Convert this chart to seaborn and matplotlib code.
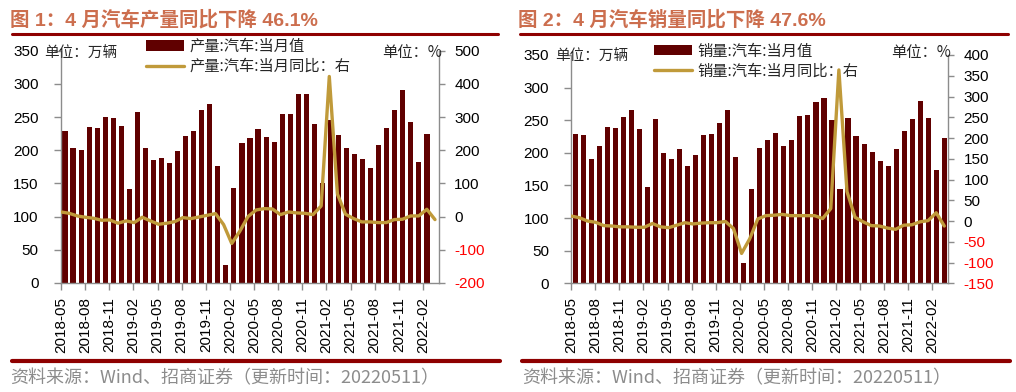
import numpy as np
import pandas as pd
import matplotlib
matplotlib.use("Agg")
import matplotlib.pyplot as plt
from matplotlib.lines import Line2D
import seaborn as sns

# ---------------- data ----------------
tick_labels = ["2018-05", "2018-08", "2018-11", "2019-02", "2019-05", "2019-08",
               "2019-11", "2020-02", "2020-05", "2020-08", "2020-11", "2021-02",
               "2021-05", "2021-08", "2021-11", "2022-02"]

prod_volume = [229, 204, 200, 235, 234, 250, 249, 237, 141, 257,
               204, 185, 189, 181, 199, 222, 229, 260, 269, 176,
               27, 143, 211, 218, 232, 220, 213, 254, 255, 285,
               284, 240, 150, 246, 223, 204, 194, 187, 173, 208,
               234, 260, 291, 243, 182, 225]
prod_yoy = [14, 10, 2, -2, -5, -11, -10, -20, -13, -18,
            -2, -13, -23, -20, -15, -3, -6, -1, 4, 9,
            -24, -81, -44, 0, 20, 24, 23, 6, 14, 11,
            10, 6, 32, 422, 68, 7, -6, -16, -16, -18,
            -18, -9, -8, 2, 2, 22, -9]

sales_volume = [229, 228, 190, 211, 240, 238, 255, 266, 237, 148,
                252, 199, 191, 206, 180, 196, 228, 229, 246, 266,
                193, 31, 144, 208, 220, 231, 211, 219, 257, 258,
                278, 284, 251, 145, 254, 226, 213, 202, 187, 180,
                206, 234, 252, 280, 254, 174, 223]
sales_yoy = [12, 8, 0, -3, -11, -12, -14, -14, -15, -15,
             -6, -14, -16, -10, -4, -7, -5, -4, -4, -1,
             -18, -78, -43, 5, 13, 14, 16, 13, 13, 13,
             13, 6, 30, 364, 71, 9, -2, -11, -12, -17,
             -20, -10, -9, -2, 1, 20, -12]

left_ticks = [0, 50, 100, 150, 200, 250, 300, 350]
right_ticks_1 = [-200, -100, 0, 100, 200, 300, 400, 500]
right_ticks_2 = [-150, -100, -50, 0, 50, 100, 150, 200, 250, 300, 350, 400]

titles = ["图 1：4 月汽车产量同比下降 46.1%", "图 2：4 月汽车销量同比下降 47.6%"]
bar_labels = ["产量:汽车:当月值", "销量:汽车:当月值"]
line_labels = ["产量:汽车:当月同比：右", "销量:汽车:当月同比：右"]
source_text = "资料来源：Wind、招商证券（更新时间：20220511）"

# ---------------- style ----------------
BAR = "#600000"
LINE = "#C09A3A"
TITLE_C = "#CC6E4E"
RULE_C = "#8E0000"
SPINE_C = "#8C8C8C"
W, H = 1016, 392

sns.set_theme(style="white")
plt.rcParams["font.family"] = ["Liberation Sans", "Noto Sans CJK SC"]
CJK = ["Noto Sans CJK SC", "Liberation Sans"]

fig = plt.figure(figsize=(W / 100, H / 100), dpi=100)
fig.patch.set_facecolor("white")


def fx(px):
    return px / W


def fy(py):
    return 1 - py / H


def panel(rect, bars, yoy, rticks, bar_label, line_label, legend_x):
    ax = fig.add_axes(rect)
    n = len(yoy)
    df_bar = pd.DataFrame({"slot": np.arange(len(bars)), "value": bars})
    sns.barplot(data=df_bar, x="slot", y="value", color=BAR, saturation=1,
                width=0.64, linewidth=0, ax=ax, label=bar_label)
    ax2 = ax.twinx()
    df_line = pd.DataFrame({"pos": np.linspace(-0.5, n - 1, n), "yoy": yoy})
    sns.lineplot(data=df_line, x="pos", y="yoy", color=LINE, linewidth=2.4,
                 ax=ax2, label=line_label)
    ax.set_xlim(-0.5, n - 0.5)
    ax.set_ylim(0, 350)
    ax2.set_ylim(rticks[0], rticks[-1])
    ax.set_xlabel("")
    ax.set_ylabel("")
    ax2.set_xlabel("")
    ax2.set_ylabel("")

    ax.set_xticks(np.arange(0, 46, 3) - 0.5)
    ax.set_xticklabels(tick_labels, rotation=90, fontsize=11)
    ax.set_yticks(left_ticks)
    ax.set_yticklabels([str(v) for v in left_ticks], fontsize=11)
    ax2.set_yticks(rticks)
    ax2.set_yticklabels([str(v) for v in rticks], fontsize=11)
    for lab, v in zip(ax2.get_yticklabels(), rticks):
        lab.set_color("#FF0000" if v < 0 else "black")

    for s in ["top", "right"]:
        ax.spines[s].set_visible(False)
    for s in ["top", "left", "bottom"]:
        ax2.spines[s].set_visible(False)
    for s in ["left", "bottom"]:
        ax.spines[s].set_color(SPINE_C)
        ax.spines[s].set_linewidth(1.0)
    ax2.spines["right"].set_color(SPINE_C)
    ax2.spines["right"].set_linewidth(1.0)

    ax.tick_params(axis="x", direction="out", length=5, width=1, color=SPINE_C,
                   pad=5, bottom=True, labelcolor="black")
    ax.tick_params(axis="y", direction="out", length=5, width=1, color=SPINE_C,
                   pad=11, left=True, labelcolor="black")
    ax2.tick_params(axis="y", direction="out", length=4, width=1, color=SPINE_C,
                    pad=7, right=True)
    ax.grid(False)
    ax2.grid(False)

    if ax2.get_legend() is not None:
        ax2.get_legend().remove()
    if ax.get_legend() is not None:
        ax.get_legend().remove()
    h1, l1 = ax.get_legend_handles_labels()
    h2, l2 = ax2.get_legend_handles_labels()
    ax2.legend(h1 + h2, l1 + l2, loc="upper left",
               bbox_to_anchor=(legend_x, 1.055), frameon=False,
               prop={"family": CJK, "size": 11}, handlelength=2.5,
               handletextpad=0.35, borderaxespad=0, borderpad=0,
               labelspacing=0.2)
    return ax, ax2


# panel rectangles (figure fraction)
r1 = [fx(61), fy(283), fx(439) - fx(61), fy(50.6) - fy(283)]
r2 = [fx(571.3), fy(283.3), fx(948.3) - fx(571.3), fy(55) - fy(283.3)]

panel(r1, prod_volume, prod_yoy, right_ticks_1, bar_labels[0], line_labels[0], 0.225)
panel(r2, sales_volume, sales_yoy, right_ticks_2, bar_labels[1], line_labels[1], 0.22)

# titles and rules
fig.text(fx(10), fy(20), titles[0], fontsize=14, fontweight="bold", color=TITLE_C,
         va="center", ha="left", family=["Liberation Sans", "Noto Sans CJK SC"])
fig.text(fx(518), fy(20), titles[1], fontsize=14, fontweight="bold", color=TITLE_C,
         va="center", ha="left", family=["Liberation Sans", "Noto Sans CJK SC"])
fig.add_artist(Line2D([fx(12), fx(498)], [fy(34), fy(34)], color=RULE_C, lw=2.2,
                      transform=fig.transFigure))
fig.add_artist(Line2D([fx(520), fx(1008)], [fy(34), fy(34)], color=RULE_C, lw=2.2,
                      transform=fig.transFigure))
fig.add_artist(Line2D([fx(12), fx(500)], [fy(361), fy(361)], color=RULE_C, lw=3,
                      transform=fig.transFigure))
fig.add_artist(Line2D([fx(522), fx(1010)], [fy(361), fy(361)], color=RULE_C, lw=3,
                      transform=fig.transFigure))

# unit labels (nudged just right of the top tick label)
fig.text(fx(44), fy(54), "单位：万辆", fontsize=10.5, family=CJK, va="center", ha="left")
fig.text(fx(442), fy(52), "单位：%", fontsize=11, family=CJK, va="center", ha="right")
fig.text(fx(555), fy(57), "单位：万辆", fontsize=10.5, family=CJK, va="center", ha="left")
fig.text(fx(951), fy(52), "单位：%", fontsize=11, family=CJK, va="center", ha="right")

# sources
fig.text(fx(10), fy(378), source_text, fontsize=13, color="#8C8C8C", family=CJK,
         va="center", ha="left")
fig.text(fx(522), fy(378), source_text, fontsize=13, color="#8C8C8C", family=CJK,
         va="center", ha="left")

fig.savefig("out.png", dpi=100, facecolor="white")
